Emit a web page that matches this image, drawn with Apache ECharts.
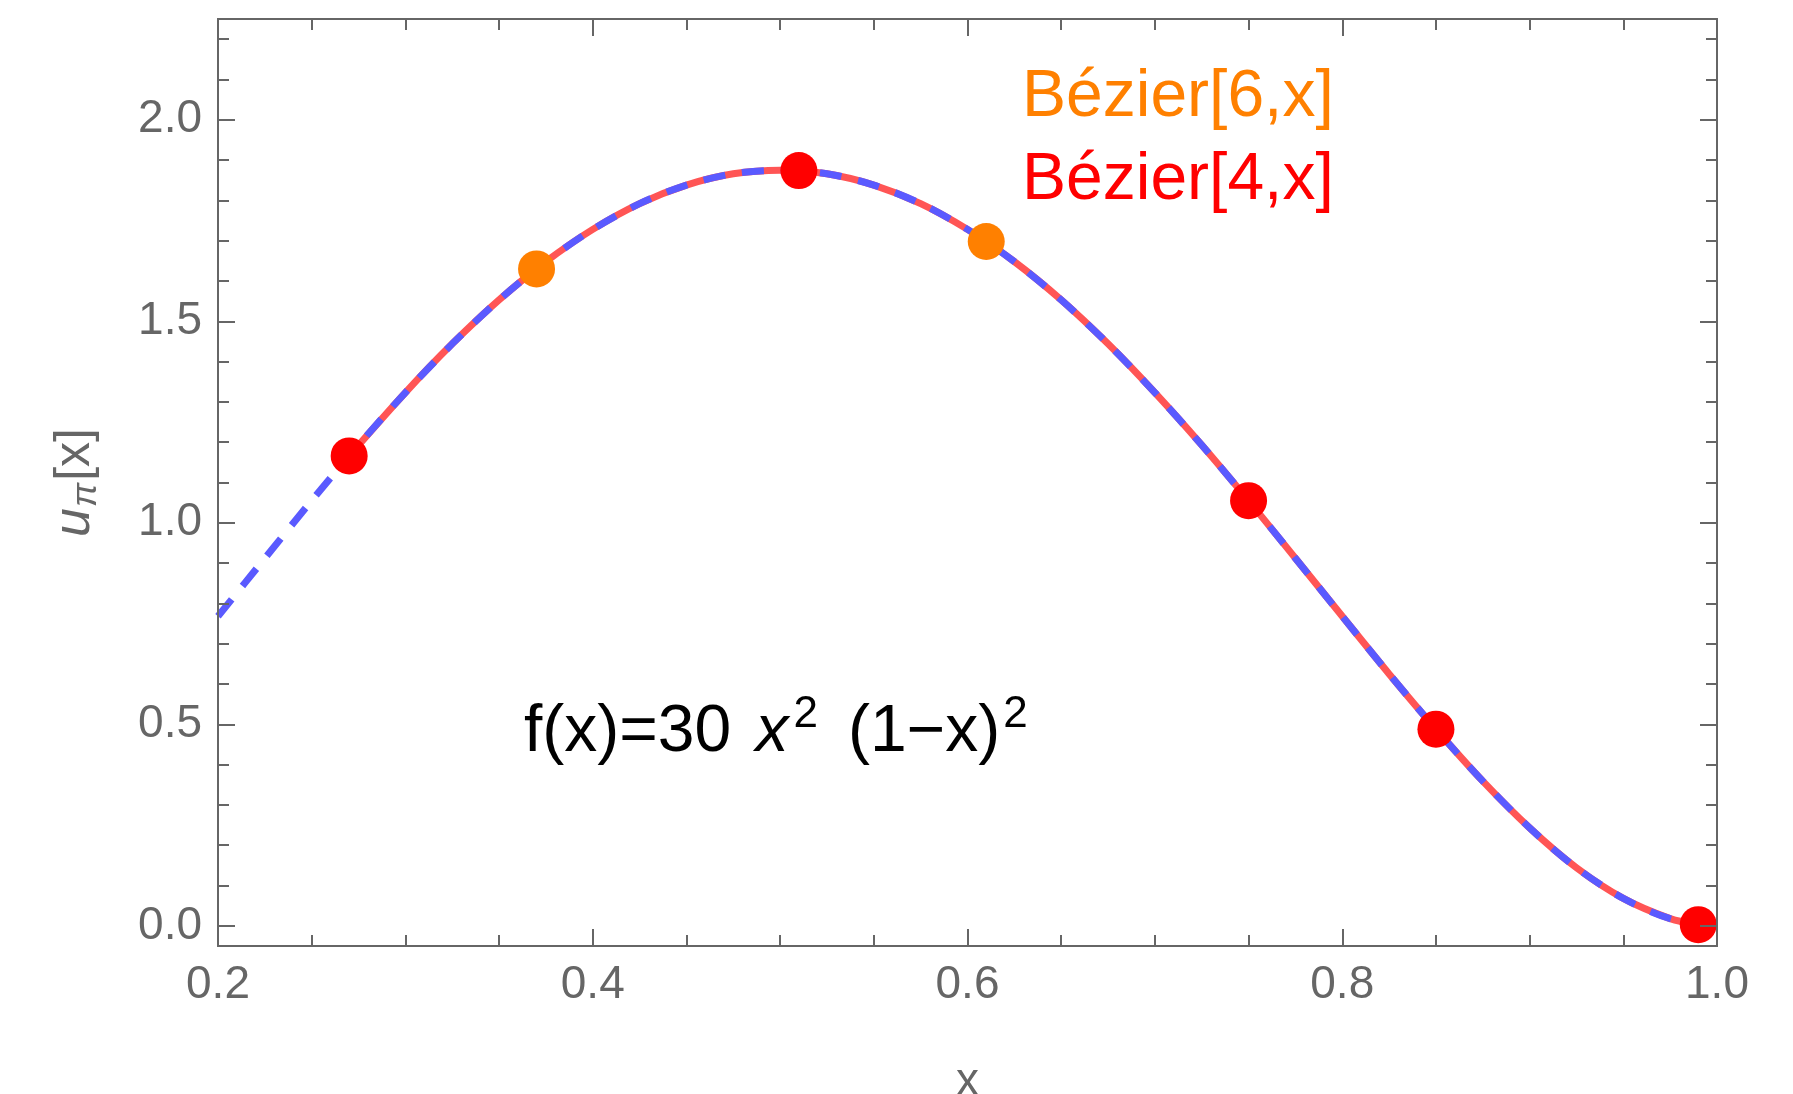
<!DOCTYPE html>
<html>
<head>
<meta charset="utf-8">
<title>u_pi[x]</title>
<script src="https://cdn.jsdelivr.net/npm/echarts@6/dist/echarts.min.js"></script>
<style>
  html, body { margin: 0; padding: 0; background: #fff; }
  #chart { width: 1793px; height: 1094px; }
</style>
</head>
<body>
<div id="chart"></div>
<script>
// dashed curve
const curveX = [0.2, 0.225, 0.25, 0.275, 0.3, 0.325, 0.35, 0.375, 0.4, 0.425, 0.45, 0.475, 0.5,
  0.525, 0.55, 0.575, 0.6, 0.625, 0.65, 0.675, 0.7, 0.725, 0.75, 0.775, 0.8, 0.825, 0.85,
  0.875, 0.9, 0.925, 0.95, 0.975, 1.0]
const curveY = [0.768, 0.912, 1.055, 1.193, 1.323, 1.444, 1.553, 1.648, 1.728, 1.792, 1.838, 1.866, 1.875,
  1.866, 1.838, 1.792, 1.728, 1.648, 1.553, 1.444, 1.323, 1.193, 1.055, 0.912, 0.768, 0.625, 0.488,
  0.359, 0.243, 0.144, 0.068, 0.018, 0.0]

// solid bezier curve (under the dashes)
const bezierX = [0.27, 0.3, 0.325, 0.35, 0.375, 0.4, 0.425, 0.45, 0.475, 0.5, 0.525, 0.55, 0.575,
  0.6, 0.625, 0.65, 0.675, 0.7, 0.725, 0.75, 0.775, 0.8, 0.825, 0.85, 0.875, 0.9, 0.925, 0.95, 0.975, 0.99]
const bezierY = [1.166, 1.323, 1.444, 1.553, 1.648, 1.728, 1.792, 1.838, 1.866, 1.875, 1.866, 1.838, 1.792,
  1.728, 1.648, 1.553, 1.444, 1.323, 1.193, 1.055, 0.912, 0.768, 0.625, 0.488, 0.359, 0.243, 0.144, 0.068, 0.018, 0.003]

// points
const pts4X = [0.27, 0.51, 0.75, 0.85, 0.99]
const pts4Y = [1.166, 1.874, 1.055, 0.488, 0.003]
const pts6X = [0.37, 0.61]
const pts6Y = [1.630, 1.698]

// y ticks
const yMajor = [0, 0.5, 1, 1.5, 2]
const yMinor = [0.1, 0.2, 0.3, 0.4, 0.6, 0.7, 0.8, 0.9, 1.1, 1.2, 1.3, 1.4, 1.6, 1.7, 1.8, 1.9, 2.1, 2.2]

const FONT = '"Liberation Sans", Arial, Helvetica, sans-serif'
const GREY = '#666666'

const pairs = (xs, ys) => xs.map((x, i) => [x, ys[i]])

function yAxisOf(pos, ticks, len, labels) {
  return {
    type: 'value',
    position: pos,
    min: -0.05,
    max: 2.25,
    z: 10,
    axisLine: { show: true, lineStyle: { color: GREY, width: 2 } },
    axisTick: { show: true, inside: true, length: len, customValues: ticks, lineStyle: { color: GREY, width: 2 } },
    axisLabel: labels ? {
      show: true,
      customValues: ticks,
      margin: 16,
      color: GREY,
      fontSize: 46,
      fontFamily: FONT,
      formatter: v => v.toFixed(1)
    } : { show: false },
    splitLine: { show: false }
  }
}

function xAxisOf(pos, labels) {
  return {
    type: 'value',
    position: pos,
    min: 0.2,
    max: 1.0,
    interval: 0.2,
    z: 10,
    axisLine: { show: true, onZero: false, lineStyle: { color: GREY, width: 2 } },
    axisTick: { show: true, inside: true, length: 17, lineStyle: { color: GREY, width: 2 } },
    minorTick: { show: true, splitNumber: 4, length: 11, lineStyle: { color: GREY, width: 2 } },
    axisLabel: labels ? {
      show: true,
      margin: 16,
      color: GREY,
      fontSize: 46,
      fontFamily: FONT,
      formatter: v => v.toFixed(1)
    } : { show: false },
    splitLine: { show: false }
  }
}

const chart = echarts.init(document.getElementById('chart'))

const xBottom = xAxisOf('bottom', true)
xBottom.name = 'x'
xBottom.nameLocation = 'middle'
xBottom.nameGap = 113
xBottom.nameTextStyle = { color: GREY, fontSize: 46, fontFamily: FONT }

const yLeft = yAxisOf('left', yMajor, 17, true)
yLeft.name = '{u|u}{s|π}{n|[x]}'
yLeft.nameLocation = 'middle'
yLeft.nameRotate = 90
yLeft.nameGap = 114
yLeft.nameTextStyle = {
  rich: {
    u: { color: GREY, fontSize: 52, fontStyle: 'italic', fontFamily: FONT, lineHeight: 58 },
    s: { color: GREY, fontSize: 36, fontStyle: 'italic', fontFamily: FONT, lineHeight: 38, verticalAlign: 'bottom', padding: [0, 2, 0, 1] },
    n: { color: GREY, fontSize: 50, fontFamily: FONT, lineHeight: 58 }
  }
}

chart.setOption({
  backgroundColor: '#ffffff',
  animation: false,
  grid: { left: 218, right: 76, top: 19, bottom: 148, containLabel: false, outerBoundsMode: 'none' },
  xAxis: [xBottom, xAxisOf('top', false)],
  yAxis: [
    yLeft,
    yAxisOf('left', yMinor, 11, false),
    yAxisOf('right', yMajor, 17, false),
    yAxisOf('right', yMinor, 11, false)
  ],
  graphic: [
    {
      type: 'text', x: 1022, y: 98, z: 20,
      style: { text: 'Bézier[6,x]', fill: '#FF8000', fontSize: 66, fontFamily: FONT, verticalAlign: 'middle' }
    },
    {
      type: 'text', x: 1022, y: 181, z: 20,
      style: { text: 'Bézier[4,x]', fill: '#FF0000', fontSize: 66, fontFamily: FONT, verticalAlign: 'middle' }
    },
    {
      type: 'text', x: 524, y: 733, z: 20,
      style: {
        text: '{m|f(x)=30 }{i|x}{p|2}{g|(1−x)}{p|2}',
        verticalAlign: 'middle',
        rich: {
          m: { fill: '#000', fontSize: 66, fontFamily: FONT, lineHeight: 80 },
          g: { fill: '#000', fontSize: 66, fontFamily: FONT, lineHeight: 80, padding: [0, 0, 0, 30] },
          i: { fill: '#000', fontSize: 66, fontFamily: FONT, fontStyle: 'italic', lineHeight: 80, padding: [0, 2, 0, 6] },
          p: { fill: '#000', fontSize: 44, fontFamily: FONT, lineHeight: 8, verticalAlign: 'top', padding: [0, 0, 0, 3] }
        }
      }
    }
  ],
  series: [
    {
      name: 'Bézier[4,x] curve',
      type: 'line',
      data: pairs(bezierX, bezierY),
      showSymbol: false,
      symbol: 'none',
      smooth: 0.3,
      lineStyle: { color: '#FF5555', width: 7 },
      z: 2
    },
    {
      name: 'f(x)',
      type: 'line',
      data: pairs(curveX, curveY),
      showSymbol: false,
      symbol: 'none',
      smooth: 0.3,
      lineStyle: { color: '#5A5AFF', width: 7, type: [22, 17] },
      z: 3
    },
    {
      name: 'Bézier[6,x]',
      type: 'scatter',
      data: pairs(pts6X, pts6Y),
      symbolSize: 37,
      itemStyle: { color: '#FF8000', opacity: 1 },
      z: 4
    },
    {
      name: 'Bézier[4,x]',
      type: 'scatter',
      data: pairs(pts4X, pts4Y),
      symbolSize: 37,
      itemStyle: { color: '#FF0000', opacity: 1 },
      z: 4
    }
  ]
})
</script>
</body>
</html>
